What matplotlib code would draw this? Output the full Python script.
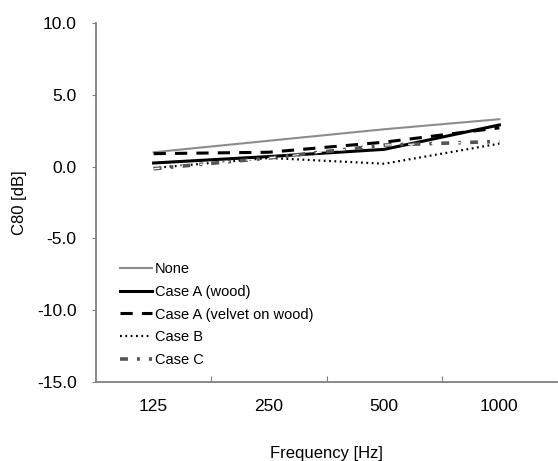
import matplotlib
matplotlib.use("Agg")
import matplotlib.pyplot as plt
import numpy as np

plt.rcParams['font.family'] = ['Liberation Sans', 'DejaVu Sans']

freqs = ["125", "250", "500", "1000"]
none_vals = [1.0, 1.8, 2.6, 3.3]
case_a_wood = [0.25, 0.7, 1.2, 2.9]
case_a_velvet = [0.9, 1.0, 1.7, 2.7]
case_b = [-0.1, 0.6, 0.2, 1.6]
case_c = [-0.15, 0.6, 1.5, 1.75]

fig = plt.figure(figsize=(5.58, 4.61), dpi=100)
ax = fig.add_axes([96/558, 1-382/461, 461/558, (382-23)/461])
x = np.arange(len(freqs))

ax.plot(x, none_vals, color='#8c8c8c', lw=1.5, label='None')
ax.plot(x, case_a_wood, color='black', lw=2.2, label='Case A (wood)')
ax.plot(x, case_a_velvet, color='black', lw=2.2, ls=(0, (4, 3)), label='Case A (velvet on wood)')
ax.plot(x, case_b, color='black', lw=1.6, ls=(0, (0.8, 1.6)), label='Case B')
ax.plot(x, case_c, color='#555555', lw=2.6, ls=(0, (2.2, 2.5, 0.8, 2.5)), label='Case C')
ax.plot(x, case_c, color='white', lw=0.9, ls=(0, (5.0, 5.6, 0.0, 8.0)))

ax.set_xlim(-0.5, 3.5)
ax.set_ylim(-15, 10)
yt = [-15, -10, -5, 0, 5, 10]
ax.set_yticks(yt)
ax.set_yticklabels([f"{v:.1f}" for v in yt], fontsize=12.5)
ax.set_xticks([0.5, 1.5, 2.5])
ax.set_xticklabels([])
ax.set_xticks(x, minor=True)
ax.set_xticklabels(freqs, minor=True, fontsize=12.5)
ax.tick_params(axis='x', which='major', direction='in', length=4, color='#808080')
ax.tick_params(axis='x', which='minor', length=0, pad=12)
ax.tick_params(axis='y', direction='out', length=3, color='#808080', pad=11)

for s in ['top', 'right']:
    ax.spines[s].set_visible(False)
for s in ['left', 'bottom']:
    ax.spines[s].set_color('#808080')
    ax.spines[s].set_linewidth(1.3)

ax.yaxis.set_label_coords(-0.149, 0.5)
ax.set_ylabel('C80 [dB]', fontsize=12)
ax.xaxis.set_label_coords(0.5, -0.178)
ax.set_xlabel('Frequency [Hz]', fontsize=12)

ax.legend(loc='upper left', bbox_to_anchor=(0.052, 0.334), frameon=False, fontsize=10.5,
          handlelength=2.2, handletextpad=0.2, labelspacing=0.6, borderaxespad=0,
          borderpad=0)

fig.savefig('out.png', dpi=100)
